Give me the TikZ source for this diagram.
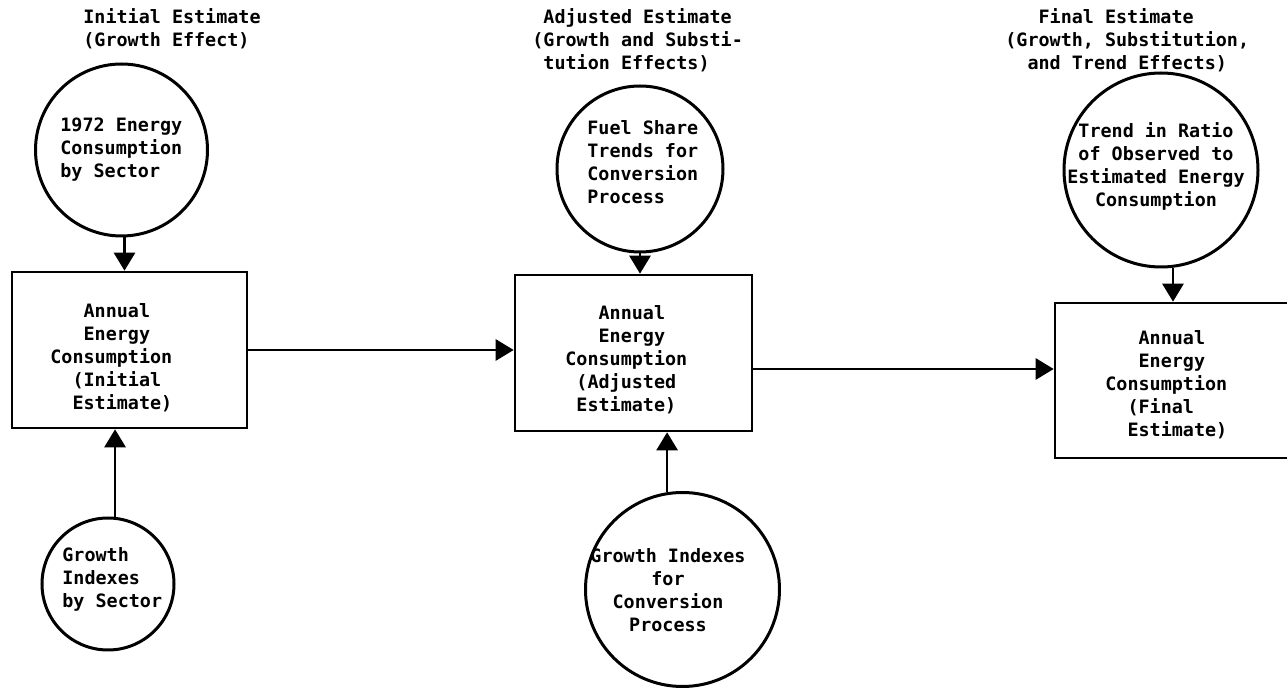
\documentclass[tikz,border=0pt]{standalone}
\usepackage{fontspec}
\setmainfont{DejaVu Sans Mono}
\usetikzlibrary{arrows.meta}
\newcommand\chsp[1]{\hphantom{#1}}
\begin{document}
\begin{tikzpicture}[x=0.5pt,y=-0.5pt,
  every node/.style={font=\fontsize{9.2pt}{11.5pt}\selectfont\bfseries, inner sep=0pt, text=black},
  txt/.style={align=left, anchor=west},
  ctxt/.style={align=center},
  stagebox/.style={draw, rectangle, line width=1.3pt, minimum width=#1, minimum height=78pt},
  source/.style={draw, circle, line width=1.5pt, minimum size=#1},
  arr/.style={line width=1.4pt, -{Triangle[length=9pt,width=10.5pt]}}]
\useasboundingbox (0,0) rectangle (1287,689);
\clip (0,0) rectangle (1287,689);
\fill[white] (0,0) rectangle (1287,689);

% column headings
\node[txt] (h1) at (83,29) {Initial Estimate\\(Growth Effect)};
\node[txt] (h2) at (532,40) {\chsp{x}Adjusted Estimate\\(Growth and Substi-\\\chsp{x}tution Effects)};
\node[txt] (h3) at (1005,40) {\chsp{xxx}Final Estimate\\(Growth, Substitution,\\\chsp{xx}and Trend Effects)};

% input circles
\node[source=86pt] (c1) at (121.5,150) {};
\node[txt] (c1t) at (60,150) {1972 Energy\\Consumption\\by Sector};

\node[source=83pt] (c2) at (640,169) {};
\node[txt] (c2t) at (587,162) {Fuel Share\\Trends for\\Conversion\\Process};

\node[source=97pt] (c3) at (682.5,589.5) {};
\node[ctxt] (c3t) at (668,590) {Growth Indexes\\for\\Conversion\\Process};

\node[source=66pt] (c4) at (108,584) {};
\node[txt] (c4t) at (62,579) {Growth\\Indexes\\by Sector};

\node[source=97pt] (c5) at (1161,170) {};
\node[ctxt] (c5t) at (1156,166) {Trend in Ratio\\of Observed to\\Estimated Energy\\Consumption};

% estimate boxes
\node[stagebox=117.5pt] (b1) at (129.5,350) {};
\node[txt] (b1t) at (50,358) {\chsp{xxx}Annual\\\chsp{xxx}Energy\\Consumption\\\chsp{xx}(Initial\\\chsp{xx}Estimate)};

\node[stagebox=118.5pt] (b2) at (633.5,353) {};
\node[txt] (b2t) at (565,360) {\chsp{xxx}Annual\\\chsp{xxx}Energy\\Consumption\\\chsp{x}(Adjusted\\\chsp{x}Estimate)};

\node[stagebox=117.5pt, minimum height=77.5pt] (b3) at (1172.5,380.5) {};
\node[txt] (b3t) at (1105,385) {\chsp{xxx}Annual\\\chsp{xxx}Energy\\Consumption\\\chsp{xx}(Final\\\chsp{xx}Estimate)};

% connectors
\draw[arr] ([xshift=1.5pt]c1.south) -- ([xshift=1.5pt]c1.south |- b1.north);
\draw[arr] (c4.84) -- (c4.84 |- b1.south);
\draw[arr] (c2.south) -- (c2.south |- b2.north);
\draw[arr] (c3.99) -- (c3.99 |- b2.south);
\draw[arr] (c5.-83) -- (c5.-83 |- b3.north);
\draw[arr] (b1.east) -- (b1.east -| b2.west);
\draw[arr] ([yshift=-8pt]b2.east) -- ([yshift=-8pt]b2.east -| b3.west);
\end{tikzpicture}
\end{document}
